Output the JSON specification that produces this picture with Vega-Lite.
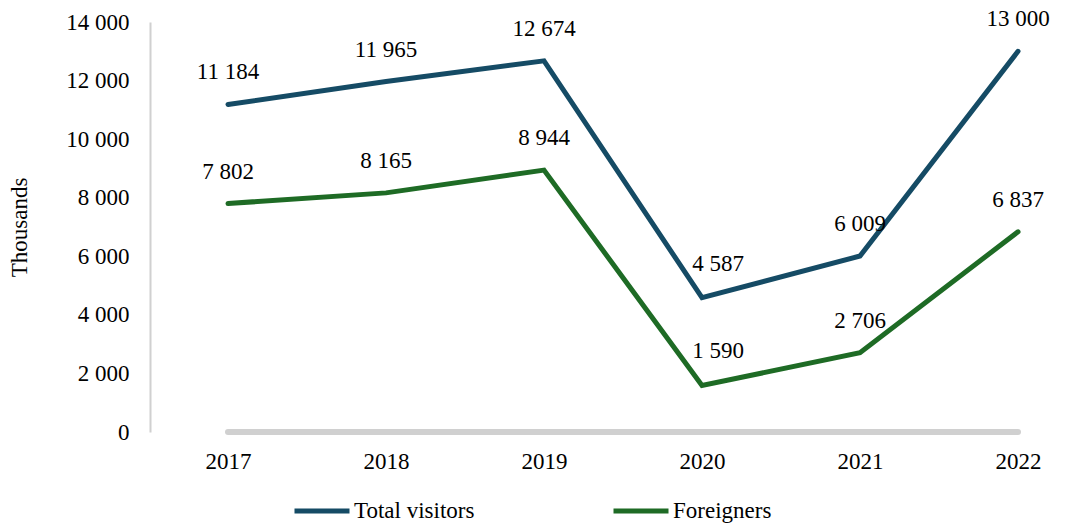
{
  "$schema": "https://vega.github.io/schema/vega-lite/v6.json",
  "autosize": {"type": "none"},
  "padding": {"left": 150, "top": 22, "right": 0, "bottom": 93},
  "width": 935,
  "height": 410,
  "config": {
    "locale": {"number": {"decimal": ".", "thousands": " ", "grouping": [3], "currency": ["", ""]}},
    "font": "Liberation Serif",
    "view": {"stroke": null},
    "axis": {"labelFont": "Liberation Serif", "titleFont": "Liberation Serif", "labelColor": "#000000", "titleColor": "#000000"}
  },
  "data": {
    "values": [
      {"year": "2017", "series": "Total visitors", "value": 11184},
      {"year": "2018", "series": "Total visitors", "value": 11965},
      {"year": "2019", "series": "Total visitors", "value": 12674},
      {"year": "2020", "series": "Total visitors", "value": 4587},
      {"year": "2021", "series": "Total visitors", "value": 6009},
      {"year": "2022", "series": "Total visitors", "value": 13000},
      {"year": "2017", "series": "Foreigners", "value": 7802},
      {"year": "2018", "series": "Foreigners", "value": 8165},
      {"year": "2019", "series": "Foreigners", "value": 8944},
      {"year": "2020", "series": "Foreigners", "value": 1590},
      {"year": "2021", "series": "Foreigners", "value": 2706},
      {"year": "2022", "series": "Foreigners", "value": 6837},
      {"year": "2017", "series": "Other", "value": 0},
      {"year": "2018", "series": "Other", "value": 0},
      {"year": "2019", "series": "Other", "value": 0},
      {"year": "2020", "series": "Other", "value": 0},
      {"year": "2021", "series": "Other", "value": 0},
      {"year": "2022", "series": "Other", "value": 0}
    ]
  },
  "encoding": {
    "x": {
      "field": "year", "type": "ordinal",
      "scale": {"type": "point", "range": [78, 868], "padding": 0},
      "axis": {
        "title": null, "labelAngle": 0, "ticks": false, "labelFontSize": 23, "labelPadding": 18,
        "domainColor": "#d0d0d0", "domainWidth": 2
      }
    },
    "y": {
      "field": "value", "type": "quantitative",
      "scale": {"domain": [0, 14000], "nice": false},
      "axis": {
        "title": "Thousands", "titleFontSize": 23, "titleFontWeight": "normal", "titlePadding": 34,
        "values": [0, 2000, 4000, 6000, 8000, 10000, 12000, 14000],
        "format": ",d", "labelFontSize": 23, "labelPadding": 21, "ticks": false, "grid": false,
        "domainColor": "#d0d0d0", "domainWidth": 2
      }
    }
  },
  "layer": [
    {
      "mark": {"type": "line", "strokeCap": "round", "strokeJoin": "miter"},
      "encoding": {
        "color": {
          "field": "series", "type": "nominal",
          "scale": {"domain": ["Total visitors", "Foreigners", "Other"], "range": ["#154b65", "#1e6b25", "#d0d0d0"]},
          "legend": {
            "title": null, "orient": "none", "direction": "horizontal", "legendX": 142, "legendY": 459,
            "values": ["Total visitors", "Foreigners"],
            "symbolType": "stroke", "symbolSize": 3025, "symbolStrokeWidth": 5,
            "labelFontSize": 23, "labelFont": "Liberation Serif", "labelColor": "#000000", "labelOffset": 2,
            "columnPadding": 128
          }
        },
        "strokeWidth": {
          "condition": {"test": "datum.series === 'Other'", "value": 6},
          "value": 5
        }
      }
    },
    {
      "transform": [{"filter": "datum.series !== 'Other' && datum.year !== '2020'"}],
      "mark": {"type": "text", "fontSize": 23, "baseline": "middle", "dy": -32, "color": "#000000", "font": "Liberation Serif"},
      "encoding": {
        "text": {"field": "value", "type": "quantitative", "format": ",d"}
      }
    },
    {
      "transform": [{"filter": "datum.series !== 'Other' && datum.year === '2020'"}],
      "mark": {"type": "text", "fontSize": 23, "baseline": "middle", "dy": -34, "dx": 16, "color": "#000000", "font": "Liberation Serif"},
      "encoding": {
        "text": {"field": "value", "type": "quantitative", "format": ",d"}
      }
    }
  ]
}
